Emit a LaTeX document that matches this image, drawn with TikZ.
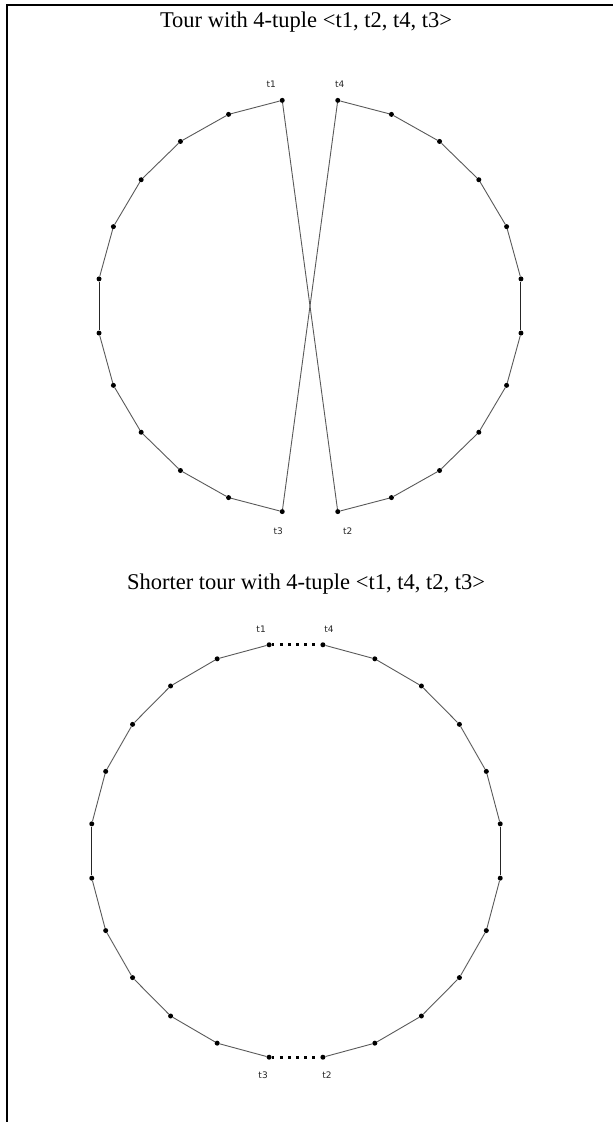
\documentclass[tikz,border=0pt]{standalone}
\usepackage{fontspec}
\setmainfont{Liberation Serif}
\newfontfamily\lblfont{DejaVu Sans}
\begin{document}
\begin{tikzpicture}[x=1pt,y=1pt,
  vtx/.style={circle,fill=black,inner sep=0pt,minimum size=5pt},
  edge/.style={draw=black!65,line width=0.9pt},
  vedge/.style={draw=black!85,line width=1pt},
  dotedge/.style={draw=black,line width=2.6pt,dash pattern=on 2.6pt off 5.5pt},
  lbl/.style={font=\lblfont\fontsize{9}{10}\selectfont,text=black!85,inner sep=0pt},
  ttl/.style={font=\fontsize{22.5}{26}\selectfont,inner sep=0pt}]
\useasboundingbox (0,0) rectangle (613,1122);
\draw[line width=1.8pt] (7,0) -- (7,1117) -- (613,1117);
% titles
\node[ttl] (title1) at (306,1100) {Tour with 4-tuple <t1, t2, t4, t3>};
\node[ttl] (title2) at (306,538) {Shorter tour with 4-tuple <t1, t4, t2, t3>};
% top tour
\foreach \k in {0,...,23}
  \node[vtx] (a\k) at ({310+212.8*cos(97.5+15*\k)},{816+207.4*sin(97.5+15*\k)}) {};
\foreach \k [evaluate=\k as \n using int(\k+1)] in {0,...,4,6,7,8,9,10}
  \draw[edge] (a\k) -- (a\n);
\foreach \k [evaluate=\k as \n using int(\k+1)] in {12,...,16,18,19,20,21,22}
  \draw[edge] (a\k) -- (a\n);
\draw[vedge] (a5) -- (a6);
\draw[vedge] (a17) -- (a18);
\draw[edge] (a0) -- (a12);
\draw[edge] (a23) -- (a11);
\node[lbl] (ta1) at ([shift={(-11,16)}]a0.center) {t1};
\node[lbl] (ta4) at ([shift={(2,16)}]a23.center) {t4};
\node[lbl] (ta3) at ([shift={(-4,-20)}]a11.center) {t3};
\node[lbl] (ta2) at ([shift={(10,-20)}]a12.center) {t2};
% bottom tour
\foreach \k in {0,...,23}
  \node[vtx] (b\k) at ({296+206*cos(97.5+15*\k)},{271+208*sin(97.5+15*\k)}) {};
\foreach \k [evaluate=\k as \n using int(\k+1)] in {0,...,4,6,7,8,9,10}
  \draw[edge] (b\k) -- (b\n);
\foreach \k [evaluate=\k as \n using int(\k+1)] in {12,...,16,18,19,20,21,22}
  \draw[edge] (b\k) -- (b\n);
\draw[vedge] (b5) -- (b6);
\draw[vedge] (b17) -- (b18);
\draw[dotedge] (b0) -- (b23);
\draw[dotedge] (b11) -- (b12);
\node[lbl] (tb1) at ([shift={(-8,16)}]b0.center) {t1};
\node[lbl] (tb4) at ([shift={(6,16)}]b23.center) {t4};
\node[lbl] (tb3) at ([shift={(-6,-18)}]b11.center) {t3};
\node[lbl] (tb2) at ([shift={(4,-18)}]b12.center) {t2};
\end{tikzpicture}
\end{document}
